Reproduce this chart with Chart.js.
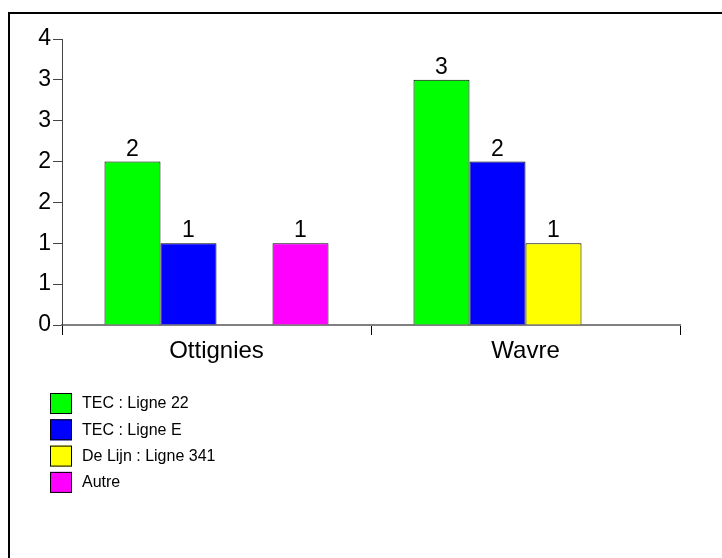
<!DOCTYPE html>
<html>
<head>
<meta charset="utf-8">
<script src="https://cdn.jsdelivr.net/npm/chart.js@4.4.0/dist/chart.umd.min.js"></script>
<style>
  body { margin: 0; background: #fff; }
  #wrap { position: relative; width: 722px; height: 558px; overflow: hidden; }
  #frame { position: absolute; left: 8px; top: 12px; width: 800px; height: 700px;
           border-top: 2px solid #000; border-left: 2px solid #000; }
  canvas { position: absolute; left: 0; top: 0; }
</style>
</head>
<body>
<div id="wrap">
  <div id="frame"></div>
  <canvas id="chart" width="722" height="558"></canvas>
</div>
<script>
// categories and series
const places = ['Ottignies', 'Wavre'];
const seriesNames = ['TEC : Ligne 22', 'TEC : Ligne E', 'De Lijn : Ligne 341', 'Autre'];
const ligne22 = [2, 3];
const ligneE = [1, 2];
const ligne341 = [null, 1];
const autre = [1, null];
const colors = ['#00ff00', '#0000ff', '#ffff00', '#ff00ff'];

const FONT = '"Liberation Sans", Arial, sans-serif';

// values above the bars
const valueLabels = {
    id: 'valueLabels',
    afterDatasetsDraw(chart) {
        const ctx = chart.ctx;
        ctx.save();
        ctx.font = '23px ' + FONT;
        ctx.fillStyle = '#000';
        ctx.textAlign = 'center';
        ctx.textBaseline = 'alphabetic';
        chart.data.datasets.forEach((ds, i) => {
            const meta = chart.getDatasetMeta(i);
            meta.data.forEach((bar, j) => {
                const v = ds.data[j];
                if (v === null || v === undefined) return;
                ctx.fillText(String(v), bar.x, bar.y - 6);
            });
        });
        ctx.restore();
    }
};

// vertical legend at the bottom left
const sideLegend = {
    id: 'sideLegend',
    afterDraw(chart) {
        const ctx = chart.ctx;
        ctx.save();
        ctx.font = '16px ' + FONT;
        ctx.textBaseline = 'middle';
        chart.data.datasets.forEach((ds, i) => {
            const y = 393 + i * 26.3;
            ctx.fillStyle = ds.backgroundColor;
            ctx.fillRect(50, y, 22, 21);
            ctx.strokeStyle = '#000';
            ctx.lineWidth = 1;
            ctx.strokeRect(50.5, y + 0.5, 21, 20);
            ctx.fillStyle = '#000';
            ctx.fillText(ds.label, 82, y + 11);
        });
        ctx.restore();
    }
};

const seriesData = [ligne22, ligneE, ligne341, autre];

new Chart(document.getElementById('chart'), {
    type: 'bar',
    data: {
        labels: places,
        datasets: seriesNames.map((name, i) => ({
            label: name,
            data: seriesData[i],
            backgroundColor: colors[i],
            borderColor: '#000',
            borderWidth: 1,
            barPercentage: 1,
            categoryPercentage: 0.725
        }))
    },
    options: {
        responsive: false,
        animation: false,
        layout: { padding: { left: 0, right: 42, top: 39, bottom: 183 } },
        plugins: {
            legend: { display: false },
            tooltip: { enabled: false }
        },
        scales: {
            x: {
                grid: { drawOnChartArea: false, offset: true, tickLength: 10, color: '#000' },
                border: { display: true, color: '#808080', width: 2 },
                ticks: { color: '#000', padding: 2, font: { family: FONT, size: 24 } },
                afterFit(scale) { scale.height = 50; }
            },
            y: {
                min: 0,
                max: 3.5,
                grid: { drawOnChartArea: false, tickLength: 9, color: '#444' },
                border: { display: true, color: '#444', width: 1 },
                ticks: {
                    stepSize: 0.5,
                    color: '#000',
                    padding: 2,
                    font: { family: FONT, size: 23 },
                    callback: (v) => Math.round(v)
                },
                afterFit(scale) { scale.width = 62; }
            }
        }
    },
    plugins: [valueLabels, sideLegend]
});
</script>
</body>
</html>
